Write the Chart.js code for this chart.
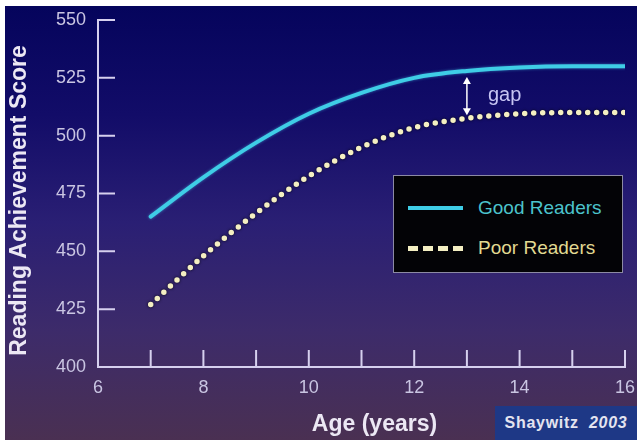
<!DOCTYPE html>
<html>
<head>
<meta charset="utf-8">
<script src="https://cdn.jsdelivr.net/npm/chart.js@4.4.1/dist/chart.umd.min.js"></script>
<style>
  html, body { margin: 0; padding: 0; background: #fff; }
  body { width: 642px; height: 445px; position: relative; overflow: hidden; font-family: "Liberation Sans", Arial, sans-serif; }
  #wrap {
    position: absolute; left: 5px; top: 6px; width: 632px; height: 434px;
    background: linear-gradient(180deg, #05045c 0%, #120c68 25%, #2a1f74 50%, #3d2b6a 75%, #4a3052 100%);
  }
  #wrap canvas { position: absolute; left: 0; top: 0; }
  #legend {
    position: absolute; left: 388px; top: 169px; width: 230px; height: 98px;
    background: #030306; border: 1.5px solid #8c8aa4; box-sizing: border-box;
  }
  .row { position: absolute; left: 14px; height: 24px; display: flex; align-items: center; font-size: 19px; }
  .swatch { width: 55px; height: 0; margin-right: 15px; }
  #credit {
    position: absolute; left: 490px; top: 400px; width: 142px; height: 34px;
    background: #1e3886; color: #e4e4f0; font-size: 16px; font-weight: bold; line-height: 34px; text-align: center;
    letter-spacing: 0.7px;
  }
</style>
</head>
<body>
<div id="wrap">
  <canvas id="chart" width="632" height="434"></canvas>
  <div id="legend"></div>
  <div id="credit">Shaywitz&nbsp;&nbsp;<i>2003</i></div>
</div>
<script>
// Data
const ages = [7, 8, 9, 10, 11, 12, 13, 14, 15, 16];
const goodReaders = [465, 482, 497, 509.5, 518.5, 525, 528, 529.5, 530, 530];
const poorReaders = [427, 448, 466.5, 482.5, 495, 503.5, 507.5, 509.5, 510, 510];
const xRange = [6, 16];
const yRange = [400, 550];
const yStep = 25;
const gapAge = 13;

const tickColor = '#c9c5e2';
const axisColor = '#d6d0ee';
const titleColor = '#ece8f4';
const fontFamily = '"Liberation Sans", Arial, sans-serif';

const series = [
  { label: 'Good Readers', data: goodReaders, color: '#3fcde6', text: '#4cc4cc', dash: [], width: 4 },
  { label: 'Poor Readers', data: poorReaders, color: '#f4efc2', text: '#e2da92', dash: [0, 9], width: 5.5 }
];

// inward tick marks on both axes + axis titles
const innerTicks = {
  id: 'innerTicks',
  afterDraw(chart) {
    const { ctx, chartArea: a, scales: { x, y } } = chart;
    ctx.save();
    ctx.strokeStyle = axisColor;
    ctx.lineWidth = 2;
    ctx.beginPath();
    y.ticks.forEach(t => {
      const py = y.getPixelForValue(t.value);
      ctx.moveTo(a.left, py); ctx.lineTo(a.left + 17, py);
    });
    x.ticks.forEach(t => {
      const px = x.getPixelForValue(t.value);
      ctx.moveTo(px, a.bottom); ctx.lineTo(px, a.bottom - 17);
    });
    ctx.stroke();

    ctx.font = 'bold 23px ' + fontFamily;
    ctx.fillStyle = titleColor;
    ctx.textAlign = 'center';
    ctx.textBaseline = 'middle';
    ctx.fillText('Age (years)', (a.left + a.right) / 2 + 13, a.bottom + 58);

    ctx.translate(15, (a.top + a.bottom) / 2 + 7);
    ctx.rotate(-Math.PI / 2);
    ctx.fillText('Reading Achievement Score', 0, 0);
    ctx.restore();
  }
};

// "gap" arrow between the curves
const gapMark = {
  id: 'gapMark',
  afterDatasetsDraw(chart) {
    const { ctx, scales: { x, y } } = chart;
    const i = ages.indexOf(gapAge);
    const px = x.getPixelForValue(gapAge);
    const top = y.getPixelForValue(goodReaders[i]) + 6;
    const bot = y.getPixelForValue(poorReaders[i]) - 3;
    ctx.save();
    ctx.strokeStyle = '#ffffff';
    ctx.fillStyle = '#ffffff';
    ctx.lineWidth = 1.5;
    ctx.beginPath(); ctx.moveTo(px, top + 4); ctx.lineTo(px, bot - 4); ctx.stroke();
    ctx.beginPath(); ctx.moveTo(px, top); ctx.lineTo(px - 4, top + 7); ctx.lineTo(px + 4, top + 7); ctx.fill();
    ctx.beginPath(); ctx.moveTo(px, bot); ctx.lineTo(px - 4, bot - 7); ctx.lineTo(px + 4, bot - 7); ctx.fill();
    ctx.font = '20px ' + fontFamily;
    ctx.fillStyle = '#c6c4f2';
    ctx.textBaseline = 'middle';
    ctx.fillText('gap', px + 21, (top + bot) / 2 - 1);
    ctx.restore();
  }
};

// soft dark edge round the dots, glow on the cyan line
const lineShade = {
  id: 'lineShade',
  beforeDatasetDraw(chart, args) {
    const ctx = chart.ctx;
    ctx.save();
    if (args.index === 1) { ctx.shadowColor = 'rgba(0,0,0,0.9)'; ctx.shadowBlur = 3; }
    else { ctx.shadowColor = 'rgba(80,220,255,0.5)'; ctx.shadowBlur = 3; }
  },
  afterDatasetDraw(chart) { chart.ctx.restore(); }
};

new Chart(document.getElementById('chart'), {
  type: 'line',
  data: {
    labels: ages,
    datasets: series.map(s => ({
      label: s.label,
      data: ages.map((a, i) => ({ x: a, y: s.data[i] })),
      borderColor: s.color,
      borderWidth: s.width,
      borderDash: s.dash,
      borderCapStyle: 'round',
      pointRadius: 0,
      cubicInterpolationMode: 'monotone',
      fill: false
    }))
  },
  options: {
    responsive: false,
    animation: false,
    layout: { padding: { left: 0, top: 14, right: 12, bottom: 0 } },
    plugins: { legend: { display: false }, tooltip: { enabled: false } },
    scales: {
      x: {
        type: 'linear',
        min: xRange[0], max: xRange[1],
        grid: { display: false, drawTicks: false },
        border: { color: axisColor, width: 2 },
        ticks: {
          stepSize: 1, autoSkip: false, padding: 10, color: tickColor,
          font: { family: fontFamily, size: 18 },
          callback: v => (v % 2 === 0 ? v : '')
        },
        afterFit: s => { s.height = 73; s.paddingLeft = 0; s.paddingRight = 0; }
      },
      y: {
        min: yRange[0], max: yRange[1],
        grid: { display: false, drawTicks: false },
        border: { color: axisColor, width: 2 },
        ticks: {
          stepSize: yStep, padding: 12, color: tickColor,
          font: { family: fontFamily, size: 18 }
        },
        afterFit: s => { s.width = 93; s.paddingTop = 0; s.paddingBottom = 0; }
      }
    }
  },
  plugins: [lineShade, gapMark, innerTicks]
});

// legend box built from the series
const legend = document.getElementById('legend');
series.forEach((s, i) => {
  const row = document.createElement('div');
  row.className = 'row';
  row.style.top = (20 + i * 40) + 'px';
  const sw = document.createElement('div');
  sw.className = 'swatch';
  sw.style.borderTop = s.dash.length ? '5px dashed ' + s.color : '4px solid ' + s.color;
  const tx = document.createElement('span');
  tx.textContent = s.label;
  tx.style.color = s.text;
  row.appendChild(sw); row.appendChild(tx);
  legend.appendChild(row);
});
</script>
</body>
</html>
